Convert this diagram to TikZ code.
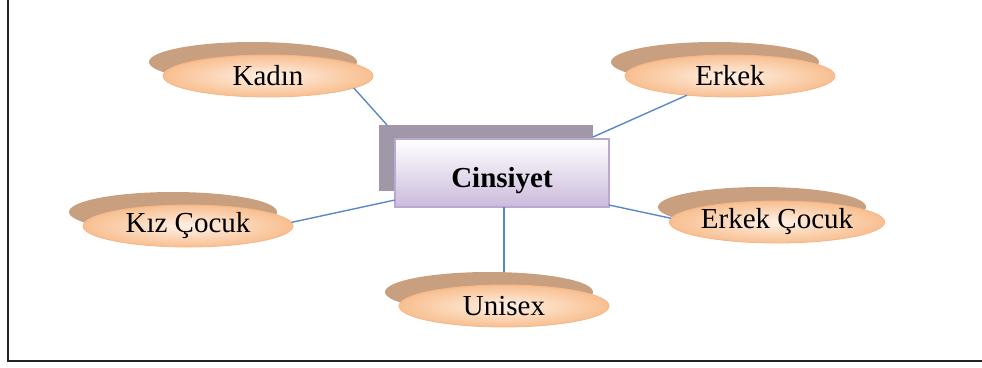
\documentclass[tikz,border=0pt]{standalone}
\usepackage{fontspec}
\setmainfont{Liberation Serif}
\usetikzlibrary{shapes.geometric,calc}

\definecolor{linkblue}{HTML}{5A88C6}
\definecolor{shadowtan}{HTML}{C9A07F}
\definecolor{peachin}{HTML}{FFF1E6}
\definecolor{peachout}{HTML}{F8BF90}
\definecolor{peachline}{HTML}{F5B68A}
\definecolor{boxshadow}{HTML}{A098A8}
\definecolor{boxbottom}{HTML}{CBBBDB}
\definecolor{boxline}{HTML}{B9A8D0}
\definecolor{framegray}{HTML}{222222}

\tikzset{
  valueback/.style={ellipse, fill=shadowtan, draw=none,
    minimum width=208pt, minimum height=40pt, inner sep=0pt, outer sep=0pt},
  value/.style={ellipse, inner color=peachin, outer color=peachout,
    draw=peachline, line width=0.8pt,
    minimum width=210pt, minimum height=42pt, inner sep=0pt, outer sep=0pt,
    font=\fontsize{29}{32}\selectfont, text=black},
  entityback/.style={rectangle, fill=boxshadow, draw=none,
    minimum width=214pt, minimum height=66pt, inner sep=0pt, outer sep=0pt},
  entity/.style={rectangle, top color=white, bottom color=boxbottom,
    draw=boxline, line width=1.2pt,
    minimum width=214pt, minimum height=68pt, inner sep=0pt, outer sep=0pt,
    text height=29pt, text depth=0pt,
    font=\bfseries\fontsize{29}{32}\selectfont, text=black},
  link/.style={draw=linkblue, line width=1.4pt},
}

\begin{document}
\begin{tikzpicture}[x=1pt, y=-1pt]
  \useasboundingbox (0,0) rectangle (982,367);

  % page frame (left and bottom edges)
  \draw[framegray, line width=2pt] (8,0) -- (8,361) -- (982,361);

  % shadow layers
  \node[entityback] (boxB) at (486,158) {};
  \node[valueback] (kadinB)  at (253,62)  {};
  \node[valueback] (erkekB)  at (715,62)  {};
  \node[valueback] (kizB)    at (173,212) {};
  \node[valueback] (ecocukB) at (762,207) {};
  \node[valueback] (unisexB) at (489,292) {};

  % front shapes
  \node[entity] (box) at (502,173) {Cinsiyet};
  \node[value] (kadin)  at (268,76)  {Kadın};
  \node[value] (erkek)  at (730,76)  {Erkek};
  \node[value] (kiz)    at (188,226) {Kız Çocuk};
  \node[value] (ecocuk) at (777,222) {Erkek Çocuk};
  \node[value] (unisex) at (504,306) {Unisex};

  % connectors from the entity to its values
  \coordinate (ufoot) at ($(box.south)+(2,0)$);
  \draw[link] (kadin.-8) -- ($(boxB.north west)+(8,0)$);
  \draw[link] (erkek.204) -- ($(boxB.north east)+(0,12)$);
  \draw[link] (kiz.2) -- ($(box.south west)+(0,-7)$);
  \draw[link] ($(box.south east)+(0,-2)$) -- (ecocuk.178);
  \draw[link] (ufoot) -- (ufoot |- unisexB.north);
\end{tikzpicture}
\end{document}
